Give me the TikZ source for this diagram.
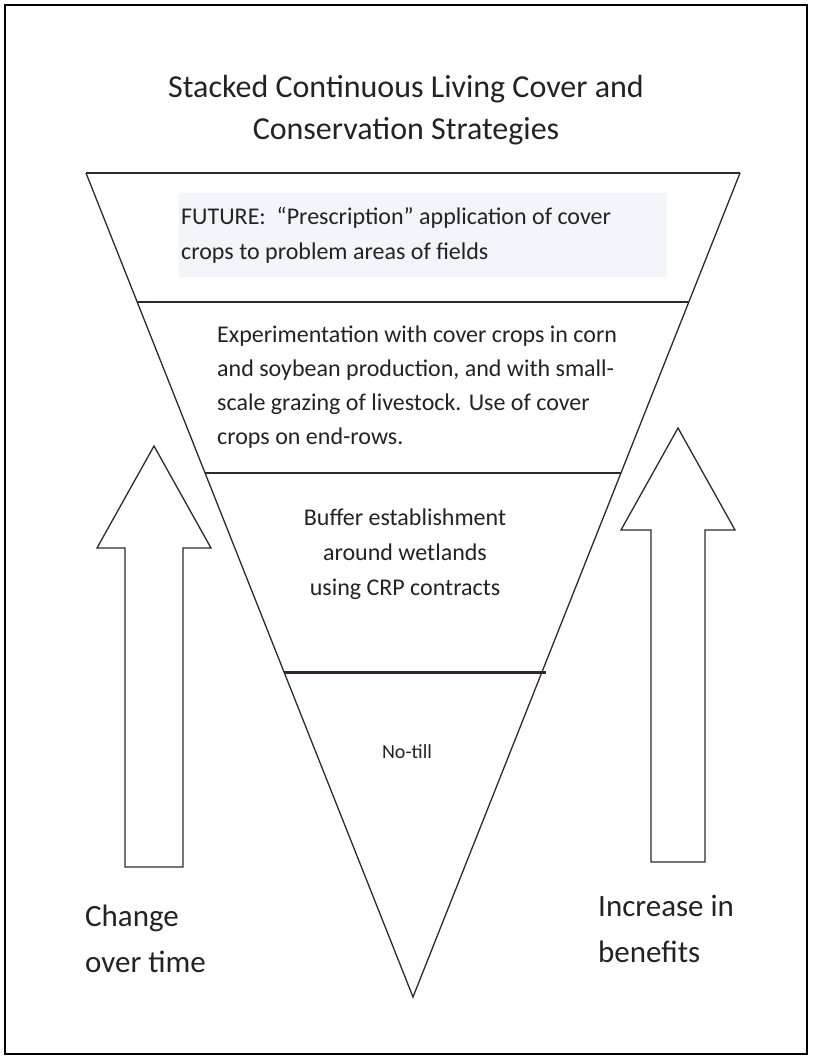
\documentclass[tikz,border=0pt]{standalone}
\usepackage{fontspec}
\setmainfont{Carlito}
\usetikzlibrary{calc}
\definecolor{linecol}{RGB}{50,40,40}
\definecolor{txtcol}{RGB}{35,35,35}
\definecolor{boxcol}{RGB}{243,245,251}
\begin{document}
\begin{tikzpicture}[x=1pt,y=-1pt,
  edge/.style={draw=linecol,line width=1.3pt,line join=miter},
  layer/.style={draw=linecol,line width=2pt},
  lbl/.style={text=txtcol,inner sep=0pt}]
\useasboundingbox (0,0) rectangle (812,1059);
\draw[line width=2pt] (5,5) rectangle (807,1054);

\fill[boxcol] (179,193) rectangle (667,277);

% funnel
\coordinate (tl) at (86,173);
\coordinate (tr) at (740,173);
\coordinate (ap) at (413,997);
\coordinate (l1) at ($(tl)!0.1566!(ap)$);
\coordinate (r1) at ($(tr)!0.1566!(ap)$);
\coordinate (l2) at ($(tl)!0.3637!(ap)$);
\coordinate (r2) at ($(tr)!0.3637!(ap)$);
\coordinate (l3) at ($(tl)!0.6064!(ap)$);
\coordinate (r3) at ($(tr)!0.6064!(ap)+(4,0)$);
\draw[edge] (tl) -- (ap) -- (tr);
\draw[layer] (tl) -- (tr);
\draw[layer] (l1) -- (r1);
\draw[layer] (l2) -- (r2);
\draw[layer,line width=2.6pt] (l3) -- (r3);

% arrows
\draw[edge] (125,867) -- (125,548) -- (97,548) -- (154,446) -- (211,548)
  -- (183,548) -- (183,867) -- cycle;
\draw[edge] (651,862) -- (651,530) -- (621,530) -- (678,428) -- (735,530)
  -- (705,530) -- (705,862) -- cycle;

\node[lbl,align=center,font=\fontsize{32}{42}\selectfont] (title) at (406,110)
  {Stacked Continuous Living Cover and\\Conservation Strategies};
\node[lbl,align=left,anchor=west,font=\fontsize{24}{35}\selectfont] (future) at (181,235)
  {FUTURE:\ \ “Prescription” application of cover\\crops to problem areas of fields};
\node[lbl,align=left,anchor=west,font=\fontsize{24}{34}\selectfont] (trials) at (217,387)
  {Experimentation with cover crops in corn\\and soybean production, and with small-\\scale grazing of livestock. Use of cover\\crops on end-rows.};
\node[lbl,align=center,font=\fontsize{24}{35}\selectfont] (buffer) at (405,554)
  {Buffer establishment\\around wetlands\\using CRP contracts};
\node[lbl,font=\fontsize{20}{24}\selectfont] (notill) at (407,752) {No-till};
\node[lbl,align=left,anchor=west,font=\fontsize{31}{46}\selectfont] (timelbl) at (85,939)
  {Change\\over time};
\node[lbl,align=left,anchor=west,font=\fontsize{31}{46}\selectfont] (benefitlbl) at (598,929)
  {Increase in\\benefits};
\end{tikzpicture}
\end{document}
